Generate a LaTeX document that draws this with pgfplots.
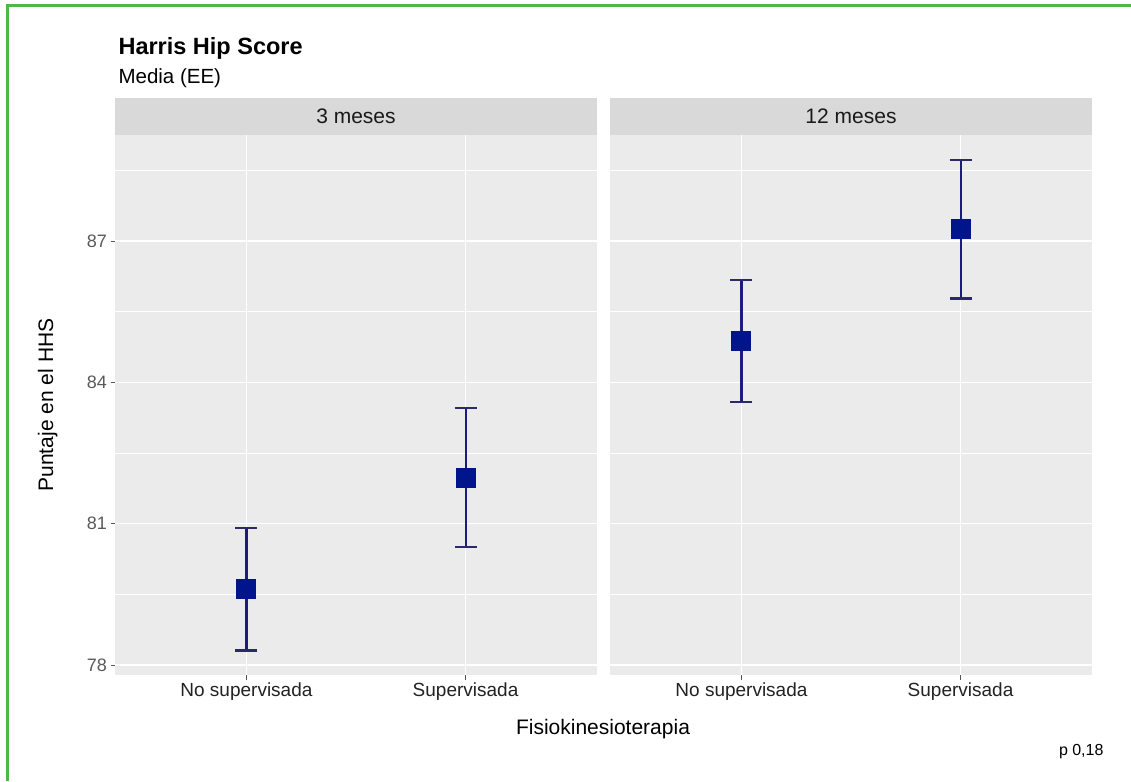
\documentclass[border=0pt]{standalone}
\usepackage{fontspec}
\setmainfont{Liberation Sans}
\usepackage{pgfplots}
\usepackage{pgfplotstable}
\pgfplotsset{compat=1.18}
\definecolor{panelbg}{HTML}{EBEBEB}
\definecolor{stripbg}{HTML}{D9D9D9}
\definecolor{errcol}{HTML}{1C1C80}
\definecolor{capcol}{HTML}{2A2A6A}
\definecolor{ptcol}{HTML}{00148C}
\definecolor{framegreen}{HTML}{4DB748}
\definecolor{tickcol}{HTML}{555555}
\definecolor{xtickcol}{HTML}{222222}
\definecolor{ytickcol}{HTML}{5A5A5A}
\definecolor{striptext}{HTML}{1A1A1A}

\pgfplotstableread{
x y ep em
1 79.61 1.30 1.30
2 81.98 1.47 1.47
}\tresmeses
\pgfplotstableread{
x y ep em
1 84.88 1.30 1.30
2 87.25 1.47 1.47
}\docemeses

\pgfplotsset{panel/.style={
  scale only axis, width=482pt, height=540pt,
  xmin=0.4, xmax=2.6, ymin=77.79, ymax=89.25,
  axis background/.style={fill=panelbg},
  axis line style={draw=none},
  xtick={1,2}, xticklabels={No supervisada,Supervisada},
  ytick={78,81,84,87}, minor ytick={79.5,82.5,85.5,88.5},
  xmajorgrids, ymajorgrids, yminorgrids,
  major grid style={white, line width=1.4pt},
  minor grid style={white, line width=0.7pt},
  tick align=outside, major tick length=4.5pt, minor tick length=0pt,
  tick pos=left,
  tick style={tickcol, line width=1pt},
  xticklabel style={font=\fontsize{19}{22}\selectfont, text=xtickcol},
  yticklabel style={font=\fontsize{18}{21}\selectfont, text=ytickcol},
  /pgf/number format/assume math mode=true,
  clip=false,
},
errp/.style={only marks, mark=square*, mark size=9.5pt,
  mark options={fill=ptcol, draw=ptcol, line width=1pt},
  error bars/y dir=both, error bars/y explicit,
  error bars/error bar style={draw=errcol, line width=2.1pt},
  error bars/error mark options={draw=capcol, line width=2.1pt, mark size=11pt, rotate=90}}
}

\begin{document}
\begin{tikzpicture}
\path[use as bounding box] (0pt,0pt) rectangle (1131pt,781pt);
\draw[framegreen, line width=2.5pt] (7.5pt,0pt) -- (7.5pt,775.5pt) -- (1131pt,775.5pt);

\begin{axis}[panel, name=ax1, at={(115pt,106pt)}, anchor=south west]
\addplot[errp] table[x=x, y=y, y error plus=ep, y error minus=em]{\tresmeses};
\end{axis}

\begin{axis}[panel, name=ax2, at={(610pt,106pt)}, anchor=south west,
  yticklabels={}, ytick style={draw=none}]
\addplot[errp] table[x=x, y=y, y error plus=ep, y error minus=em]{\docemeses};
\end{axis}

\fill[stripbg] (ax1.north west) rectangle ([yshift=37pt]ax1.north east);
\fill[stripbg] (ax2.north west) rectangle ([yshift=37pt]ax2.north east);
\node[font=\fontsize{21}{24}\selectfont, text=striptext] at ([yshift=18.5pt]ax1.north) {3 meses};
\node[font=\fontsize{21}{24}\selectfont, text=striptext] at ([yshift=18.5pt]ax2.north) {12 meses};

\node[anchor=base west, font=\bfseries\fontsize{23.5}{28}\selectfont] at (115pt,726pt) {Harris Hip Score};
\node[anchor=base west, font=\fontsize{20.5}{24}\selectfont] at (115pt,697pt) {Media (EE)};
\node[anchor=base, font=\fontsize{21}{24}\selectfont] at (603pt,47pt) {Fisiokinesioterapia};
\node[anchor=base, rotate=90, font=\fontsize{21}{24}\selectfont] at (53pt,376pt) {Puntaje en el HHS};
\node[anchor=base east, font=\fontsize{16}{19}\selectfont] at (1107pt,26pt) {p 0,18};
\end{tikzpicture}
\end{document}
